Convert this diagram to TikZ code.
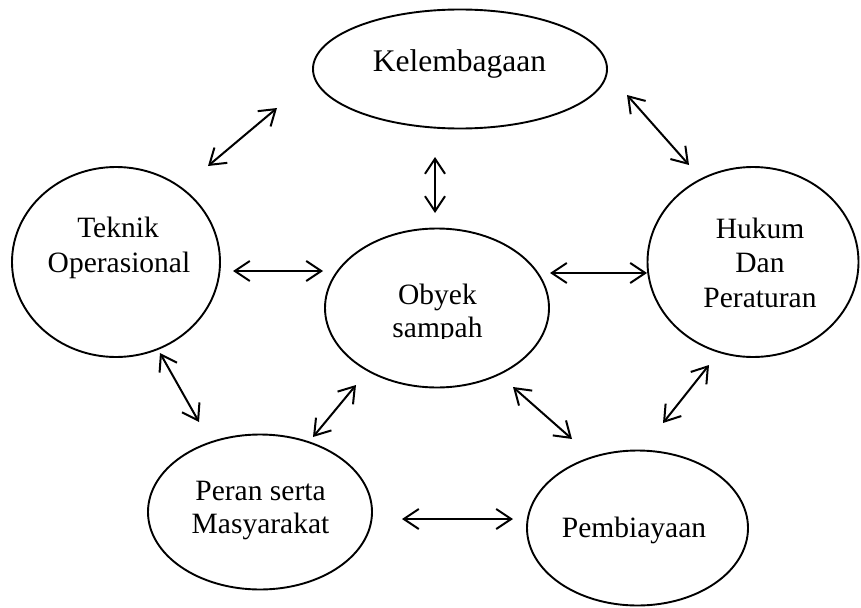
\documentclass[tikz,border=0pt]{standalone}
\usepackage{fontspec}
\setmainfont{Liberation Serif}
\usetikzlibrary{arrows.meta,shapes.geometric}
\begin{document}
\begin{tikzpicture}[x=1pt,y=-1pt,
  oval/.style={draw, ellipse, line width=1.9pt, inner sep=0pt},
  lbl/.style={anchor=base, inner sep=0pt, font=\fontsize{29.5}{34}\selectfont},
  biarrow/.style={line width=2pt,
    {Straight Barb[length=15pt,width=20pt]}-{Straight Barb[length=15pt,width=20pt]}}
]
\useasboundingbox (0,0) rectangle (861,607);
% ellipses
\node[oval, minimum width=294pt, minimum height=119pt] (kel) at (460,69) {};
\node[oval, minimum width=208pt, minimum height=190pt] (tek) at (116,262) {};
\node[oval, minimum width=211pt, minimum height=190pt] (huk) at (753,262) {};
\node[oval, minimum width=224pt, minimum height=159pt] (oby) at (437,308) {};
\node[oval, minimum width=224pt, minimum height=155pt] (per) at (260,512) {};
\node[oval, minimum width=221pt, minimum height=155pt] (pem) at (637.5,528) {};
% texts
\node[lbl, font=\fontsize{31.5}{36}\selectfont] (kelt) at (459.5,72) {Kelembagaan};
\node[lbl] (tek1) at (118,237) {Teknik};
\node[lbl] (tek2) at (119,272) {Operasional};
\node[lbl] (huk1) at (760,238) {Hukum};
\node[lbl] (huk2) at (760,272.5) {Dan};
\node[lbl] (huk3) at (760,307) {Peraturan};
\node[lbl] (oby1) at (437.5,304) {Obyek};
\begin{scope}
\clip (380,310) rectangle (500,338.5);
\node[lbl] (oby2) at (437.5,337) {sampah};
\end{scope}
\node[lbl] (per1) at (260.5,500) {Peran serta};
\node[lbl] (per2) at (260.5,533) {Masyarakat};
\node[lbl] (pemt) at (634,537) {Pembiayaan};
% arrow end points
\coordinate (a1) at (208,166); \coordinate (b1) at (277,108);
\coordinate (a2) at (435,157); \coordinate (b2) at (435,213);
\coordinate (a3) at (627,95);  \coordinate (b3) at (689,165);
\coordinate (a4) at (233,271); \coordinate (b4) at (323,271);
\coordinate (a5) at (550,273); \coordinate (b5) at (647,273);
\coordinate (a6) at (160,353); \coordinate (b6) at (199,422);
\coordinate (a7) at (356,385); \coordinate (b7) at (313,437);
\coordinate (a8) at (513,387); \coordinate (b8) at (572,439);
\coordinate (a9) at (709,365); \coordinate (b9) at (663,423);
\coordinate (a10) at (402,519); \coordinate (b10) at (513,519);
\foreach \i in {1,...,10}{\draw[biarrow] (a\i) -- (b\i);}
\end{tikzpicture}
\end{document}
